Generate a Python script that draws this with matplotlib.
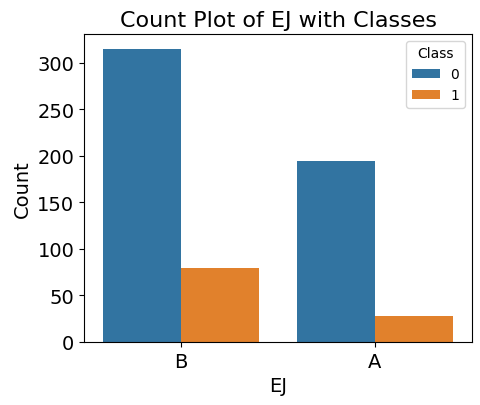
import numpy as np
import pandas as pd
import matplotlib
matplotlib.use("Agg")
import matplotlib.pyplot as plt
import seaborn as sns

ej_levels = ["B", "A"]
class_levels = ["0", "1"]
counts_class0 = [315, 194]
counts_class1 = [80, 28]

plt.rcParams['font.family'] = ['DejaVu Sans']

rows = []
for ej, c0, c1 in zip(ej_levels, counts_class0, counts_class1):
    rows.append({"EJ": ej, "Class": "0", "Count": c0})
    rows.append({"EJ": ej, "Class": "1", "Count": c1})
df = pd.DataFrame(rows)

fig = plt.figure(figsize=(4.81, 4.06), dpi=100)
ax = fig.add_axes([84 / 481, 1 - 343 / 406, (472 - 84) / 481, (343 - 35) / 406])
sns.barplot(data=df, x="EJ", y="Count", hue="Class", order=ej_levels,
            hue_order=class_levels, palette=["#3274a1", "#e1812c"], saturation=1,
            ax=ax)
ax.set_title("Count Plot of EJ with Classes", fontsize=16)
ax.set_xlabel("EJ", fontsize=14)
ax.set_ylabel("Count", fontsize=14)
ax.tick_params(labelsize=14)
ax.legend(title="Class", fontsize=10, title_fontsize=10, loc="upper right")
fig.savefig("out.png", dpi=100)
